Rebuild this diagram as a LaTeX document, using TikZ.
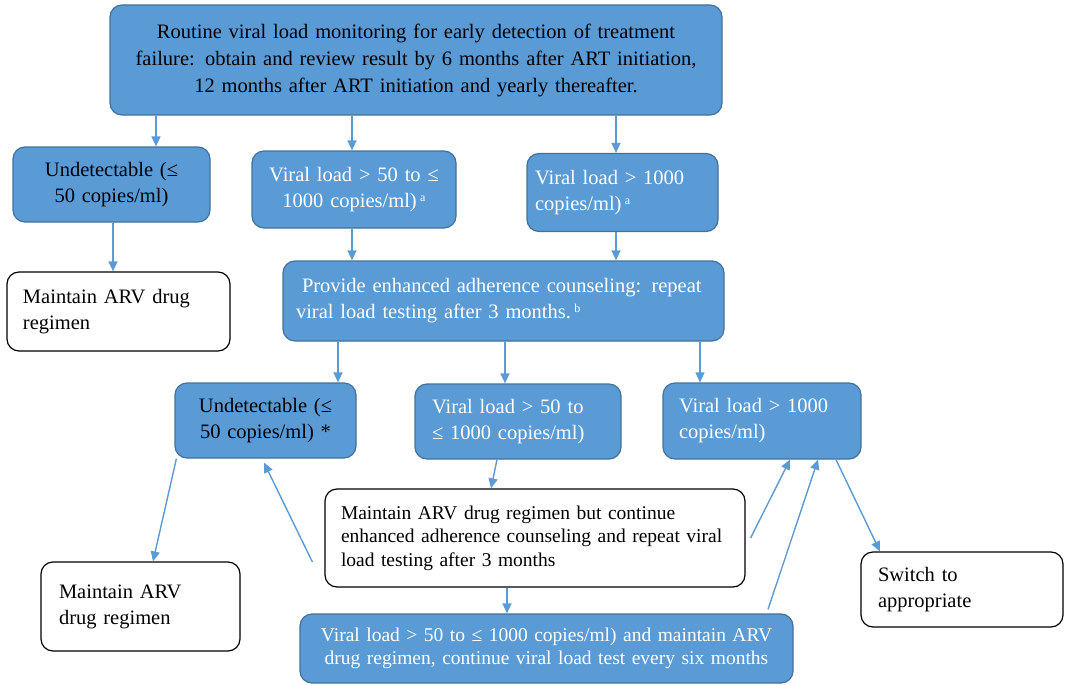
\documentclass[tikz,border=0pt]{standalone}
\usepackage{fontspec}
\setmainfont{Liberation Serif}
\usetikzlibrary{arrows.meta}
\definecolor{boxblue}{HTML}{5B9BD5}
\definecolor{boxedge}{HTML}{41719C}
\definecolor{arrblue}{HTML}{5B9BD5}
\newcommand{\supa}[1]{\raisebox{6pt}{\fontsize{12}{12}\selectfont #1}}
\begin{document}
\begin{tikzpicture}[x=1pt,y=-1pt,
 bluebox/.style={draw=boxedge, fill=boxblue, line width=1.2pt, rounded corners=12pt, text=white},
 whitebox/.style={draw=black, fill=white, line width=1.2pt, rounded corners=12pt, text=black},
 big/.style={font=\fontsize{20.5}{26}\selectfont},
 small/.style={font=\fontsize{19.5}{23.5}\selectfont},
 arr/.style={draw=arrblue, line width=1.4pt, -{Triangle[length=10pt,width=9pt]}},
]
\useasboundingbox (0,0) rectangle (1066,685);

\node[bluebox, text=black, minimum width=612pt, minimum height=110pt, text width=590pt, inner sep=0pt, align=center, font=\fontsize{20.5}{27}\selectfont] (top) at (416,60)
 {Routine viral load monitoring for early detection of treatment\\ failure: obtain and review result by 6 months after ART initiation,\\ 12 months after ART initiation and yearly thereafter.};

\node[bluebox, text=black, big, minimum width=197pt, minimum height=75pt, text width=185pt, inner sep=0pt, align=center] (u1) at (111.5,184.5)
 {Undetectable (≤\\ 50 copies/ml)};
\node[bluebox, big, minimum width=204pt, minimum height=77pt, text width=190pt, inner sep=0pt, align=center] (v1) at (354,189.5)
 {Viral load > 50 to ≤\\ 1000 copies/ml)\,\supa{a}};
\node[bluebox, big, minimum width=191pt, minimum height=78pt, text width=175pt, inner sep=0pt, align=left] (h1) at (622.5,192.5)
 {Viral load > 1000\\ copies/ml)\,\supa{a}};

\node[whitebox, big, minimum width=223pt, minimum height=79pt, text width=191pt, inner sep=0pt, align=left] (m1) at (118.5,311.5)
 {Maintain ARV drug\\ regimen};
\node[bluebox, big, minimum width=441pt, minimum height=80pt, text width=415pt, inner sep=0pt, align=left] (p) at (503.5,301)
 {\hspace*{6pt}Provide enhanced adherence counseling: repeat\\ viral load testing after 3 months.\,\supa{b}};

\node[bluebox, text=black, big, minimum width=181pt, minimum height=75pt, text width=172pt, inner sep=0pt, align=center] (u2) at (265.5,420.5)
 {Undetectable (≤\\ 50 copies/ml) *};
\node[bluebox, big, minimum width=206pt, minimum height=75pt, text width=172pt, inner sep=0pt, align=left] (v2) at (518,421.5)
 {Viral load > 50 to\\ ≤ 1000 copies/ml)};
\node[bluebox, big, minimum width=198pt, minimum height=76pt, text width=166pt, inner sep=0pt, align=left] (h2) at (762,421)
 {Viral load > 1000\\ copies/ml)};

\node[whitebox, small, minimum width=420pt, minimum height=98pt, text width=388pt, inner sep=0pt, align=left] (mc) at (535,538)
 {Maintain ARV drug regimen but continue\\ enhanced adherence counseling and repeat viral\\ load testing after 3 months};
\node[whitebox, big, minimum width=199pt, minimum height=89pt, text width=163pt, inner sep=0pt, align=left] (m2) at (140.5,606.5)
 {Maintain ARV\\ drug regimen\\[-12pt]};
\node[bluebox, small, minimum width=493pt, minimum height=69pt, text width=485pt, inner sep=0pt, align=center] (bot) at (546.5,648.5)
 {Viral load > 50 to ≤ 1000 copies/ml) and maintain ARV\\ drug regimen, continue viral load test every six months};
\node[whitebox, big, minimum width=202pt, minimum height=75pt, text width=168pt, inner sep=0pt, align=left] (sw) at (962,589.5)
 {Switch to\\ appropriate};

% arrows
\draw[arr] ([xshift=-260pt]top.south) -- ([xshift=-260pt]top.south |- u1.north);
\draw[arr] ([xshift=-64pt]top.south) -- ([xshift=-64pt]top.south |- v1.north);
\draw[arr] ([xshift=200pt]top.south) -- ([xshift=200pt]top.south |- h1.north);
\draw[arr] ([xshift=1.5pt]u1.south) -- ([xshift=1.5pt]u1.south |- m1.north);
\draw[arr] ([xshift=-2pt]v1.south) -- ([xshift=-2pt]v1.south |- p.north);
\draw[arr] ([xshift=-6.5pt]h1.south) -- ([xshift=-6.5pt]h1.south |- p.north);
\draw[arr] ([xshift=-165.5pt]p.south) -- ([xshift=-165.5pt]p.south |- u2.north);
\draw[arr] ([xshift=1.5pt]p.south) -- ([xshift=1.5pt]p.south |- v2.north);
\draw[arr] ([xshift=196.5pt]p.south) -- ([xshift=196.5pt]p.south |- h2.north);
\draw[arr] ([xshift=-21pt]v2.south) -- ([xshift=-44pt]mc.north);
\draw[arr] ([xshift=2pt]u2.south west) -- ([xshift=12.5pt]m2.north);
\draw[arr] ([xshift=-12pt,yshift=-24pt]mc.west) -- ([xshift=-1.5pt,yshift=-4pt]u2.south);
\draw[arr] ([xshift=-28pt]mc.south) -- ([xshift=-28pt]mc.south |- bot.north);
\draw[arr] ([xshift=5pt]mc.east) -- ([xshift=28pt]h2.south);
\draw[arr] ([xshift=221.5pt,yshift=4pt]bot.north) -- ([xshift=56pt]h2.south);
\draw[arr] ([xshift=74pt]h2.south) -- ([xshift=-82pt]sw.north);
\end{tikzpicture}
\end{document}
